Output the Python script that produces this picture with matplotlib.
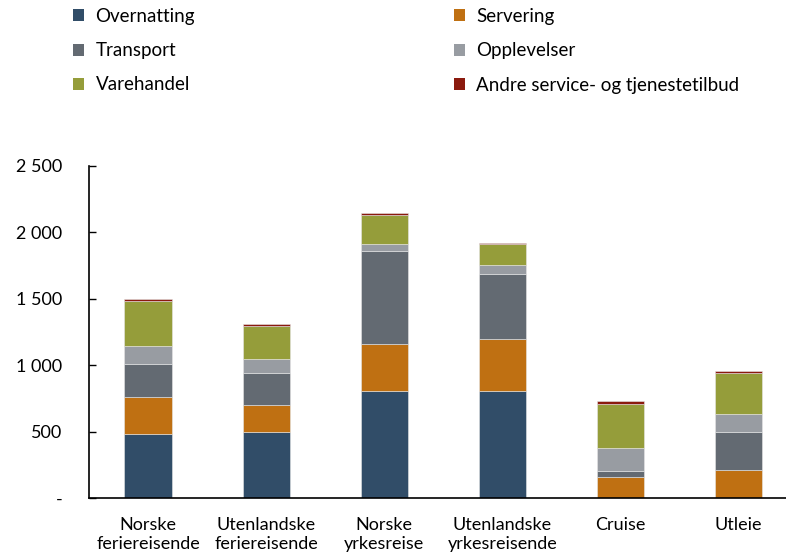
import numpy as np
import matplotlib.pyplot as plt
from matplotlib.patches import Patch

plt.rcParams['font.family'] = ['Lato', 'DejaVu Sans']

categories = ["Norske\nferiereisende", "Utenlandske\nferiereisende", "Norske\nyrkesreise",
              "Utenlandske\nyrkesreisende", "Cruise", "Utleie"]

overnatting = [484, 499, 808, 808, 0, 0]
servering = [274, 201, 349, 389, 156, 211]
transport = [251, 241, 703, 492, 50, 284]
opplevelser = [133, 108, 50, 63, 171, 138]
varehandel = [339, 246, 221, 158, 333, 308]
andre = [15, 15, 15, 10, 23, 13]

series = [
    ("Overnatting", overnatting, "#314d68"),
    ("Servering", servering, "#bf7012"),
    ("Transport", transport, "#636a72"),
    ("Opplevelser", opplevelser, "#989ca2"),
    ("Varehandel", varehandel, "#959d3a"),
    ("Andre service- og tjenestetilbud", andre, "#8b1a0e"),
]

yticks = [0, 500, 1000, 1500, 2000, 2500]
ytick_labels = ["-", "500", "1 000", "1 500", "2 000", "2 500"]

fig = plt.figure(figsize=(7.86, 5.53), dpi=100)
ax = fig.add_axes([89 / 786, 55 / 553, 1 - 89 / 786, 332 / 553])

x = np.arange(len(categories))
bottom = np.zeros(len(categories))
for name, vals, col in series:
    vals = np.array(vals, dtype=float)
    ax.bar(x, vals, 0.4, bottom=bottom, color=col, edgecolor="#e6e6e6", linewidth=0.4)
    bottom += vals

ax.set_xlim(-0.5, 5.4)
ax.set_ylim(0, 2500)
ax.set_yticks(yticks)
ax.set_yticklabels(ytick_labels)
ax.set_xticks(x)
ax.set_xticklabels(categories, linespacing=1.2)
ax.tick_params(axis="y", direction="in", length=5, pad=19, labelsize=13, width=1)
ax.tick_params(axis="x", length=0, pad=14, labelsize=13)
for s in ["top", "right"]:
    ax.spines[s].set_visible(False)
for s in ["left", "bottom"]:
    ax.spines[s].set_linewidth(1.2)

# legend, column-wise fill
order = ["Overnatting", "Transport", "Varehandel",
         "Servering", "Opplevelser", "Andre service- og tjenestetilbud"]
colors = dict((n, c) for n, _, c in series)
handles = [Patch(facecolor=colors[n], edgecolor="none") for n in order]
fig.legend(handles, order, ncol=2, loc="upper left", bbox_to_anchor=(73 / 786, 1 - 8 / 553),
           frameon=False, fontsize=13.5, handlelength=0.6, handleheight=0.6,
           handletextpad=0.6, columnspacing=13.8, labelspacing=0.92, borderpad=0,
           borderaxespad=0)

fig.savefig("out.png", dpi=100)
